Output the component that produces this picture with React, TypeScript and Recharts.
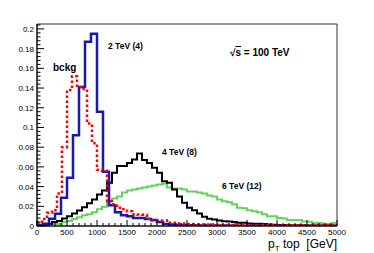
import React from "react";
import { LineChart, Line, XAxis, YAxis, ReferenceArea } from "recharts";

// bin widths in GeV
const FINE = 5000 / 60;
const WIDE = 100;

// signal 2 TeV (4), 100 GeV bins
const tev2 = [
  0.001, 0.0022, 0.0073, 0.0124, 0.0287, 0.049, 0.092, 0.141, 0.187, 0.195,
  0.116, 0.055, 0.021, 0.014, 0.011, 0.01, 0.008, 0.008, 0.007, 0.006,
  0.004, 0.002, 0.0015, 0.0012, 0.001, 0.0008, 0.0007, 0.0006, 0.0005, 0.0005,
  0.0004, 0.0004, 0.0003, 0.0003, 0.0003, 0.0002, 0.0002, 0.0002, 0.0002, 0.0002,
  0.0001, 0.0001, 0.0001, 0.0001, 0.0001, 0.0001, 0.0001, 0.0001, 0.0001, 0.0001,
];

// background, 83.3 GeV bins
const bckg = [
  0.003, 0.007, 0.0134, 0.016, 0.033, 0.08, 0.138, 0.152, 0.141, 0.139,
  0.104, 0.084, 0.057, 0.056, 0.025, 0.022, 0.0185, 0.017, 0.015, 0.012,
  0.0117, 0.0115, 0.0073, 0.0056, 0.0056, 0.0055, 0.0033, 0.0033, 0.0025, 0.0025,
  0.002, 0.002, 0.0015, 0.0015, 0.0015, 0.0015, 0.001, 0.001, 0.001, 0.001,
  0.001, 0.001, 0.001, 0.001, 0.001, 0.001, 0.0007, 0.0007, 0.0007, 0.0007,
  0.0007, 0.0007, 0.0007, 0.0007, 0.0007, 0.0007, 0.0007, 0.0007, 0.0007, 0.0007,
];

// signal 4 TeV (8)
const tev4 = [
  0.0005, 0.001, 0.002, 0.004, 0.005, 0.0076, 0.01, 0.0127, 0.0157, 0.019,
  0.023, 0.027, 0.032, 0.036, 0.044, 0.054, 0.061, 0.061, 0.064, 0.0676,
  0.0737, 0.067, 0.064, 0.059, 0.054, 0.0455, 0.044, 0.037, 0.03, 0.0236,
  0.0185, 0.016, 0.0127, 0.0093, 0.0073, 0.0066, 0.0055, 0.0049, 0.0046, 0.004,
  0.0033, 0.0033, 0.0025, 0.0022, 0.0022, 0.002, 0.0015, 0.0012, 0.001, 0.001,
  0.0008, 0.0008, 0.0007, 0.0007, 0.0006, 0.0006, 0.0005, 0.0005, 0.0005, 0.0004,
];

// signal 6 TeV (12)
const tev6 = [
  0.001, 0.001, 0.0015, 0.002, 0.002, 0.004, 0.005, 0.007, 0.009, 0.011,
  0.012, 0.014, 0.017, 0.0195, 0.026, 0.028, 0.03, 0.034, 0.036, 0.037,
  0.038, 0.039, 0.04, 0.041, 0.042, 0.043, 0.039, 0.038, 0.038, 0.037,
  0.035, 0.035, 0.034, 0.033, 0.031, 0.03, 0.027, 0.025, 0.024, 0.022,
  0.0185, 0.018, 0.016, 0.015, 0.014, 0.012, 0.01, 0.01, 0.008, 0.0075,
  0.006, 0.006, 0.006, 0.0045, 0.0042, 0.003, 0.003, 0.0022, 0.0022, 0.003,
];

const xMajor = [0, 500, 1000, 1500, 2000, 2500, 3000, 3500, 4000, 4500, 5000];
const yMajor = [0, 0.02, 0.04, 0.06, 0.08, 0.1, 0.12, 0.14, 0.16, 0.18, 0.2];

const xTicks = Array.from({ length: 51 }, (_, i) => i * 100);
const yTicks = Array.from({ length: 52 }, (_, i) => i * 0.004);

function steps(vals: number[], width: number) {
  const pts = vals.map((v, i) => ({ x: i * width, y: v }));
  pts.push({ x: vals.length * width, y: vals[vals.length - 1] });
  return pts;
}

const font = "'Liberation Sans', Arial, sans-serif";

const isMajorX = (v: number) => xMajor.includes(v);
const isMajorY = (v: number) => yMajor.some((m) => Math.abs(m - v) < 1e-6);

function XTick(props: any) {
  const { x, y, payload } = props;
  const major = isMajorX(payload.value);
  return (
    <g>
      <line x1={x} y1={y} x2={x} y2={y - (major ? 6 : 3)} stroke="#000" strokeWidth={1} />
      {major && (
        <text x={x} y={y + 9} textAnchor="middle" fontSize={8} fontFamily={font} fill="#000">
          {payload.value}
        </text>
      )}
    </g>
  );
}

function YTick(props: any) {
  const { x, y, payload } = props;
  const major = isMajorY(payload.value);
  return (
    <g>
      <line x1={x} y1={y} x2={x + (major ? 7 : 3.5)} y2={y} stroke="#000" strokeWidth={1} />
      {major && (
        <text x={x - 3} y={y + 3} textAnchor="end" fontSize={8} fontFamily={font} fill="#000">
          {Number(payload.value.toFixed(3)).toString()}
        </text>
      )}
    </g>
  );
}

export default function App() {
  return (
    <div style={{ position: "absolute", left: 0, top: 0, width: 374, height: 253, background: "#fff" }}>
      <LineChart width={374} height={253} margin={{ top: 24, right: 37, left: 0, bottom: 0 }}>
        <XAxis
          type="number"
          dataKey="x"
          domain={[0, 5000]}
          ticks={xTicks}
          interval={0}
          tickSize={0}
          tickMargin={0}
          tickLine={false}
          tick={<XTick />}
          height={27}
          axisLine={{ stroke: "#000" }}
          allowDataOverflow
        />
        <YAxis
          type="number"
          dataKey="y"
          domain={[0, 0.205]}
          ticks={yTicks}
          interval={0}
          tickSize={0}
          tickMargin={0}
          tickLine={false}
          tick={<YTick />}
          width={37}
          axisLine={{ stroke: "#000" }}
          allowDataOverflow
        />
        <ReferenceArea x1={0} x2={5000} y1={0} y2={0.205} fill="none" stroke="#333" strokeWidth={1} />
        <Line data={steps(tev6, FINE)} dataKey="y" type="stepAfter" stroke="#62d45a" strokeWidth={2} dot={false} isAnimationActive={false} />
        <Line data={steps(tev4, FINE)} dataKey="y" type="stepAfter" stroke="#000000" strokeWidth={2} dot={false} isAnimationActive={false} />
        <Line data={steps(tev2, WIDE)} dataKey="y" type="stepAfter" stroke="#1a1aa8" strokeWidth={2.5} dot={false} isAnimationActive={false} />
        <Line data={steps(bckg, FINE)} dataKey="y" type="stepAfter" stroke="#ff0000" strokeWidth={2.5} strokeDasharray="2.5 2.5" dot={false} isAnimationActive={false} />
      </LineChart>
      <svg width={374} height={253} style={{ position: "absolute", left: 0, top: 0, pointerEvents: "none" }} fontFamily={font}>
        <text x={53} y={71} fontSize={10} fontWeight="bold">bckg</text>
        <text x={108} y={49} fontSize={8.5} fontWeight="bold">2 TeV (4)</text>
        <text x={162} y={154.5} fontSize={8.5} fontWeight="bold">4 TeV (8)</text>
        <text x={222} y={188.5} fontSize={8.5} fontWeight="bold">6 TeV (12)</text>
        <text x={230} y={56} fontSize={10} fontWeight="bold">
          √<tspan style={{ textDecoration: "overline" }}>s</tspan> = 100 TeV
        </text>
        <text x={337} y={248} fontSize={12} textAnchor="end">
          p<tspan fontSize={8} dy={3}>T</tspan><tspan dy={-3}>{"\u00a0top\u00a0\u00a0[GeV]"}</tspan>
        </text>
      </svg>
    </div>
  );
}
